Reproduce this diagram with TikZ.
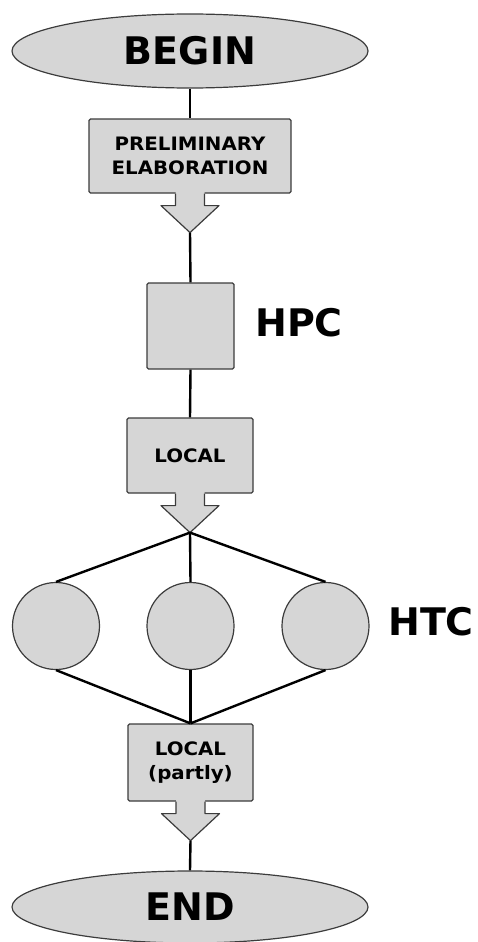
\documentclass[tikz,border=0pt]{standalone}
\usepackage{fontspec}
\setmainfont{DejaVu Sans}
\newfontfamily\widesans[FakeStretch=1.07]{DejaVu Sans}
\usetikzlibrary{shapes.geometric,calc}
\definecolor{boxfill}{RGB}{214,214,214}
\definecolor{boxline}{RGB}{60,60,60}
\begin{document}
\begin{tikzpicture}[x=1pt,y=-1pt,
  shape fill/.style={fill=boxfill,draw=boxline,line width=1.2pt},
  terminal/.style={shape fill,ellipse,inner sep=0pt,font=\fontsize{38}{40}\selectfont\bfseries},
  stepbox/.style={shape fill,rectangle,rounded corners=1.5pt,inner sep=0pt,align=center,
     font=\widesans\fontsize{18.5}{24}\selectfont\bfseries},
  ball/.style={shape fill,circle,inner sep=0pt,minimum size=87pt},
  biglabel/.style={font=\fontsize{38}{40}\selectfont\bfseries},
  link/.style={line width=2.4pt,black}]
\useasboundingbox (0,0) rectangle (477,942);

% terminals
\node[terminal,minimum width=356pt,minimum height=74pt] (begin) at (190,51) {BEGIN};
\node[terminal,minimum width=356pt,minimum height=72pt] (end) at (190,907) {END};

% process boxes
\node[stepbox,minimum width=202pt,minimum height=74pt] (pre) at (190,156) {PRELIMINARY\\ELABORATION};
\node[stepbox,minimum width=87pt,minimum height=86pt] (hpc) at (190.5,326) {};
\node[stepbox,minimum width=126pt,minimum height=75pt] (loc) at (190,455.5) {LOCAL};
\node[stepbox,minimum width=125pt,minimum height=77pt] (part) at (190.5,762.5) {LOCAL\\(partly)};

% parallel tasks
\node[ball] (c1) at (56,626) {};
\node[ball] (c2) at (190.5,626) {};
\node[ball] (c3) at (325.5,626) {};

% side labels
\node[biglabel] (hpclabel) at (299,323) {HPC};
\node[biglabel] (htclabel) at (431,622) {HTC};

% block arrows hanging below the boxes
\foreach \n in {pre,loc,part}{
  \coordinate (\n tip) at ($(\n.south)+(0,39)$);
  \fill[boxfill] ($(\n.south)+(-14.5,-1.5)$) -- ($(\n.south)+(-14.5,12)$) -- ($(\n.south)+(-29,12)$)
     -- (\n tip) -- ($(\n.south)+(29,12)$) -- ($(\n.south)+(14.5,12)$) -- ($(\n.south)+(14.5,-1.5)$) -- cycle;
  \draw[boxline,line width=1.2pt,line join=round] ($(\n.south)+(-14.5,0)$) -- ($(\n.south)+(-14.5,12)$) -- ($(\n.south)+(-29,12)$)
     -- (\n tip) -- ($(\n.south)+(29,12)$) -- ($(\n.south)+(14.5,12)$) -- ($(\n.south)+(14.5,0)$);
}

% connectors
\draw[link] (begin.south) -- (pre.north);
\draw[link] (pretip) -- (hpc.north);
\draw[link] (hpc.south) -- (loc.north);
\draw[link] (loctip) -- (c1.north);
\draw[link] (loctip) -- (c2.north);
\draw[link] (loctip) -- (c3.north);
\draw[link] (c1.south) -- (part.north);
\draw[link] (c2.south) -- (part.north);
\draw[link] (c3.south) -- (part.north);
\draw[link] (parttip) -- (end.north);
\end{tikzpicture}
\end{document}
